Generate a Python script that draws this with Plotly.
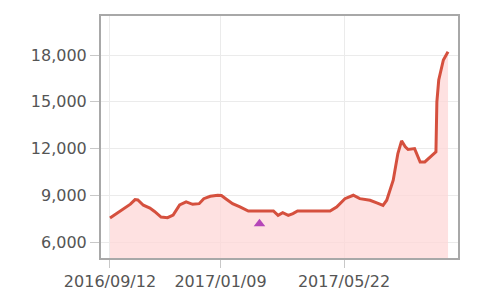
import plotly.graph_objects as go

dates = [
    "2016-09-12", "2016-09-18", "2016-09-26", "2016-10-04", "2016-10-09", "2016-10-12",
    "2016-10-18", "2016-10-25", "2016-10-30", "2016-11-06", "2016-11-13", "2016-11-19",
    "2016-11-26", "2016-12-03", "2016-12-10", "2016-12-17", "2016-12-22", "2016-12-29",
    "2017-01-06", "2017-01-10", "2017-01-15", "2017-01-22", "2017-01-30", "2017-02-08",
    "2017-03-07", "2017-03-12", "2017-03-17", "2017-03-23", "2017-03-28", "2017-04-02",
    "2017-05-07", "2017-05-14", "2017-05-23", "2017-06-01", "2017-06-08", "2017-06-19",
    "2017-06-27", "2017-07-03", "2017-07-07", "2017-07-14", "2017-07-19", "2017-07-23",
    "2017-07-27", "2017-07-30", "2017-08-06", "2017-08-12", "2017-08-17", "2017-08-25",
    "2017-08-29", "2017-08-30", "2017-09-01", "2017-09-06", "2017-09-11",
]
prices = [
    7560, 7800, 8100, 8450, 8740, 8720,
    8380, 8200, 7980, 7620, 7580, 7750,
    8400, 8590, 8440, 8480, 8800, 8950,
    9020, 9000, 8780, 8480, 8270, 8010,
    8010, 7730, 7900, 7730, 7840, 8010,
    8010, 8270, 8800, 9020, 8800, 8700,
    8520, 8370, 8700, 9980, 11690, 12500,
    12120, 11950, 12010, 11150, 11150, 11580,
    11800, 15000, 16400, 17680, 18210,
]

marker_dates = ["2017-02-20"]
marker_values = [7200]

x_tick_vals = ["2016-09-12", "2017-01-09", "2017-05-22"]
x_tick_text = ["2016/09/12", "2017/01/09", "2017/05/22"]
y_tick_vals = [6000, 9000, 12000, 15000, 18000]

fig = go.Figure()
fig.add_trace(go.Scatter(
    x=dates, y=prices, mode="lines",
    line=dict(color="#d5503e", width=3),
    fill="tozeroy", fillcolor="rgba(253,215,215,0.75)",
    hoverinfo="skip", showlegend=False,
))
fig.add_trace(go.Scatter(
    x=marker_dates, y=marker_values, mode="markers",
    marker=dict(symbol="triangle-up", size=10, color="#b546b8"),
    showlegend=False,
))

axis_common = dict(
    showline=True, linecolor="#a8a8a8", linewidth=2, mirror=True,
    showgrid=True, gridcolor="#ebebeb", gridwidth=1,
    ticks="outside", tickcolor="#c8c8c8", tickwidth=1,
    tickfont=dict(family="DejaVu Sans", size=16, color="#555555"),
    zeroline=False,
)

fig.update_xaxes(
    type="date",
    range=["2016-09-02 08:00", "2017-09-21 18:00"],
    tickvals=x_tick_vals, ticktext=x_tick_text, ticklen=8,
    **axis_common,
)
fig.update_yaxes(
    range=[5000, 20500],
    tickvals=y_tick_vals, tickformat=",", ticklen=9,
    **axis_common,
)

fig.update_layout(
    width=500, height=307,
    margin=dict(l=101, r=42, t=16, b=49),
    paper_bgcolor="white", plot_bgcolor="white",
    showlegend=False,
)

fig.write_html("out.html")
